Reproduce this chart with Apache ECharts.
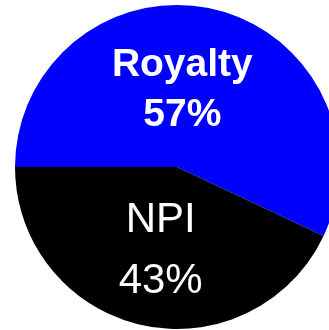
<!DOCTYPE html>
<html>
<head>
<meta charset="utf-8">
<script src="https://cdn.jsdelivr.net/npm/echarts@6/dist/echarts.min.js"></script>
<style>
  html, body { margin: 0; padding: 0; background: #ffffff; }
  #chart { width: 329px; height: 330px; }
</style>
</head>
<body>
<div id="chart"></div>
<script>
// Share of income by type
const categories = ['Royalty', 'NPI'];
const shares = [57, 43];
const colors = ['#0000ff', '#000000'];

const chart = echarts.init(document.getElementById('chart'), null, { renderer: 'canvas' });

const labelStyles = [
  { fontWeight: 'bold', fontSize: 39, lineHeight: 50, offset: [-13, 5] },
  { fontWeight: 'normal', fontSize: 42, lineHeight: 61, offset: [2, 2] }
];

chart.setOption({
  backgroundColor: '#ffffff',
  animation: false,
  series: [{
    type: 'pie',
    center: [177, 167],
    radius: [0, 162],
    startAngle: 180,
    clockwise: true,
    silent: true,
    label: {
      show: true,
      position: 'inside',
      color: '#ffffff',
      fontFamily: 'Liberation Sans, Arial, sans-serif',
      formatter: p => p.name + '\n' + p.value + '%'
    },
    labelLine: { show: false },
    itemStyle: { borderWidth: 0 },
    data: categories.map((name, i) => ({
      name: name,
      value: shares[i],
      itemStyle: { color: colors[i] },
      label: labelStyles[i]
    }))
  }]
});
</script>
</body>
</html>
